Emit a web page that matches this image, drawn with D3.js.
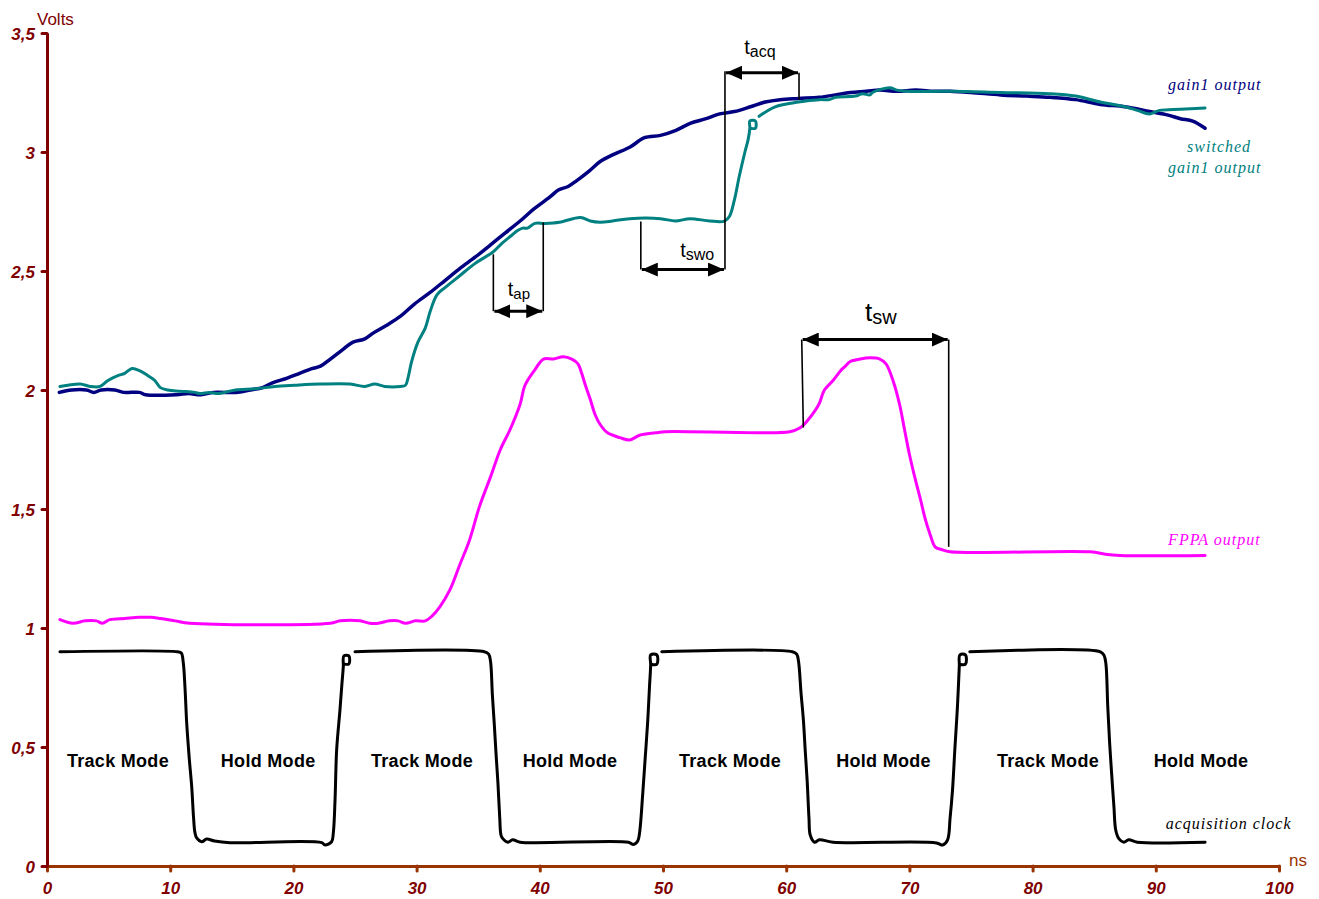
<!DOCTYPE html>
<html>
<head>
<meta charset="utf-8">
<script src="https://cdn.jsdelivr.net/npm/d3@7/dist/d3.min.js"></script>
<style>
  html, body { margin: 0; padding: 0; background: #fff; }
  svg { display: block; }
  .tick-label { font-family: Arial, "Liberation Sans", sans-serif; font-weight: bold; font-style: italic; font-size: 17px; fill: #800000; }
  .mode { font-family: Arial, "Liberation Sans", sans-serif; font-weight: bold; font-size: 18px; fill: #000; letter-spacing: 0.3px; }
  .legend { font-family: "Times New Roman", "Liberation Serif", serif; font-style: italic; font-size: 16px; letter-spacing: 1px; }
  .anno { font-family: Arial, "Liberation Sans", sans-serif; fill: #000; }
</style>
</head>
<body>
<svg id="chart" width="1319" height="899"></svg>
<script>
// ---- axis ticks ----
const xTicks = [0, 10, 20, 30, 40, 50, 60, 70, 80, 90, 100];
const yTicks = [0, 0.5, 1, 1.5, 2, 2.5, 3, 3.5];
const yTickLabels = ["0", "0,5", "1", "1,5", "2", "2,5", "3", "3,5"];

// ---- gain1 output [ns, V] ----
const gain1Output = [
  [1.0,1.99],[2.0,2.0],[3.2,2.0],[3.8,1.99],[4.4,2.0],[5.5,2.0],[6.2,1.99],[7.5,1.99],[8.0,1.98],
  [10.5,1.98],[11.5,1.985],[12.5,1.98],[13.5,1.99],[15.5,1.99],[16.5,2.0],[17.5,2.01],[18.3,2.03],
  [19.5,2.05],[20.5,2.07],[21.5,2.09],[22.2,2.10],[23.0,2.13],[24.0,2.17],[24.8,2.20],[25.8,2.215],
  [26.5,2.24],[27.5,2.27],[28.7,2.31],[29.8,2.36],[31.1,2.41],[32.3,2.46],[33.5,2.51],[34.8,2.56],
  [36.0,2.61],[37.2,2.66],[38.4,2.71],[39.5,2.76],[40.8,2.81],[41.5,2.84],[42.3,2.855],[43.0,2.88],
  [44.0,2.92],[44.9,2.96],[46.0,2.99],[47.3,3.02],[48.5,3.06],[49.8,3.07],[51.0,3.09],[52.2,3.12],
  [53.5,3.14],[54.6,3.16],[55.8,3.17],[57.1,3.19],[58.3,3.21],[59.5,3.22],[61.0,3.225],[62.7,3.23],
  [64.0,3.24],[65.2,3.25],[66.5,3.255],[67.6,3.26],[69.0,3.255],[70.5,3.26],[72.0,3.255],[73.3,3.255],
  [75.0,3.25],[77.4,3.24],[79.5,3.235],[81.4,3.23],[83.5,3.22],[85.5,3.20],[87.5,3.19],[89.5,3.17],
  [91.0,3.155],[92.0,3.14],[93.0,3.13],[94.0,3.10]
];

// ---- switched gain1 output [ns, V]; null marks a break in the trace ----
const switchedOutput = [
  [1.05,2.015],[1.7,2.02],[2.7,2.025],[3.5,2.015],[4.3,2.015],[4.95,2.04],[5.75,2.06],[6.3,2.07],
  [6.9,2.09],[7.55,2.08],[8.2,2.06],[8.75,2.04],[9.2,2.01],[9.8,2.0],[10.8,1.995],[12.0,1.99],
  [12.4,1.985],[13.2,1.99],[13.9,1.985],[15.3,2.0],[16.9,2.005],[18.5,2.015],[20.1,2.02],[22.2,2.025],
  [24.6,2.025],[25.8,2.015],[26.6,2.025],[27.4,2.015],[28.7,2.015],[29.1,2.02],[29.3,2.05],[29.6,2.12],
  [30.1,2.20],[30.7,2.26],[31.1,2.33],[31.65,2.40],[32.3,2.43],[33.5,2.48],[34.7,2.53],[36.2,2.58],
  [36.8,2.61],[37.6,2.645],[38.2,2.67],[38.6,2.68],[39.0,2.68],[39.6,2.70],[40.4,2.70],[41.6,2.705],
  [43.3,2.725],[44.1,2.71],[44.9,2.705],[45.9,2.71],[47.3,2.72],[49.8,2.72],[51.0,2.71],[52.2,2.72],
  [53.8,2.71],[55.0,2.71],[55.4,2.73],[55.8,2.80],[56.2,2.90],[56.65,3.00],[56.9,3.05],[57.05,3.10],
  [57.05,3.13],[57.5,3.13],[57.5,3.10],[57.1,3.10],
  null,
  [57.8,3.15],[59.1,3.19],[61.0,3.21],[62.7,3.22],[63.5,3.22],[64.0,3.23],[65.6,3.235],[66.2,3.245],
  [66.8,3.24],[67.0,3.25],[68.4,3.27],[69.0,3.26],[69.8,3.255],[73.3,3.255],[77.4,3.25],[81.4,3.245],
  [83.5,3.235],[85.5,3.21],[87.5,3.19],[88.5,3.175],[89.5,3.16],[90.3,3.175],[92.0,3.18],[94.0,3.185]
];

// ---- FPPA output [ns, V] ----
const fppaOutput = [
  [1.05,1.035],[2.1,1.02],[3.1,1.03],[4.0,1.03],[4.5,1.02],[5.1,1.035],[6.3,1.04],[7.5,1.045],
  [8.4,1.045],[9.2,1.04],[10.4,1.03],[11.6,1.02],[23.0,1.02],[23.8,1.03],[25.4,1.03],[26.2,1.02],
  [26.9,1.02],[27.8,1.03],[28.5,1.03],[29.1,1.02],[29.9,1.03],[30.7,1.03],[31.25,1.05],[31.9,1.09],
  [32.7,1.16],[33.5,1.265],[34.3,1.37],[35.1,1.51],[36.0,1.635],[36.8,1.75],[37.6,1.835],[38.4,1.94],
  [38.8,2.02],[39.6,2.085],[40.3,2.13],[41.1,2.13],[41.9,2.14],[42.6,2.13],[43.1,2.11],[43.4,2.07],
  [43.7,2.02],[44.1,1.96],[44.5,1.895],[44.9,1.855],[45.5,1.82],[46.5,1.80],[47.3,1.79],[48.1,1.81],
  [49.4,1.82],[50.2,1.825],[60.3,1.825],[61.1,1.84],[61.7,1.87],[62.3,1.91],[62.7,1.945],[63.1,2.0],
  [63.8,2.04],[64.4,2.08],[64.8,2.10],[65.2,2.12],[66.0,2.13],[66.8,2.135],[67.6,2.13],[68.1,2.11],
  [68.7,2.035],[69.2,1.94],[69.6,1.835],[70.0,1.73],[70.5,1.62],[70.9,1.54],[71.3,1.455],[71.7,1.39],
  [72.1,1.34],[72.6,1.33],[73.3,1.32],[84.7,1.32],[85.9,1.31],[87.1,1.305],[94.0,1.305]
];

// ---- acquisition clock [ns, V]; null marks a break in the trace ----
const acquisitionClock = [
  [1.05,0.9],[10.6,0.9],[10.9,0.895],[11.06,0.855],[11.2,0.75],[11.34,0.60],[11.55,0.45],[11.75,0.33],
  [11.9,0.2],[12.01,0.14],[12.15,0.118],[12.56,0.102],[12.96,0.113],[13.6,0.105],[14.85,0.098],
  [22.3,0.098],[22.56,0.088],[23.1,0.102],[23.24,0.139],[23.38,0.278],[23.51,0.488],[23.78,0.656],
  [23.92,0.753],[24.05,0.837],[24.1,0.883],[24.5,0.883],[24.5,0.849],[24.1,0.849],
  null,
  [25.0,0.9],[35.5,0.9],[35.85,0.89],[36.0,0.86],[36.15,0.72],[36.3,0.6],[36.45,0.47],[36.6,0.35],
  [36.75,0.2],[36.85,0.13],[37.0,0.115],[37.4,0.10],[37.8,0.11],[38.4,0.10],[47.2,0.10],[47.6,0.09],
  [47.95,0.105],[48.1,0.14],[48.35,0.30],[48.55,0.45],[48.75,0.6],[48.9,0.75],[49.0,0.845],
  [49.0,0.887],[49.5,0.887],[49.5,0.848],[49.05,0.848],
  null,
  [49.9,0.9],[60.5,0.9],[60.85,0.89],[61.0,0.86],[61.2,0.73],[61.4,0.61],[61.55,0.48],[61.7,0.36],
  [61.85,0.2],[61.95,0.13],[62.3,0.10],[62.7,0.11],[63.8,0.10],[72.2,0.097],[72.7,0.088],[73.1,0.11],
  [73.3,0.2],[73.5,0.32],[73.7,0.5],[73.9,0.67],[74.05,0.84],[74.1,0.887],[74.55,0.887],[74.55,0.848],
  [74.1,0.848],
  null,
  [74.9,0.9],[85.5,0.9],[85.8,0.885],[85.95,0.85],[86.1,0.67],[86.25,0.52],[86.4,0.40],[86.6,0.25],
  [86.75,0.15],[87.0,0.115],[87.4,0.10],[87.8,0.11],[88.5,0.10],[94.0,0.10]
];

// ---- mode labels under the clock ----
const modeNames = ["Track Mode", "Hold Mode", "Track Mode", "Hold Mode", "Track Mode", "Hold Mode", "Track Mode", "Hold Mode"];
const modeCenters = [5.76, 17.95, 30.44, 42.45, 55.44, 67.9, 81.25, 93.67];
const modeLevel = 0.418;

// ---- timing annotations (ns, V) ----
const timings = [
  { main: "t", sub: "ap",  mainSize: 20, subSize: 15, x1: 36.23, x2: 40.28, yArrow: 2.331,
    left: [2.57, 2.331], right: [2.704, 2.331], labelX: 37.4, labelY: 2.394 },
  { main: "t", sub: "swo", mainSize: 20, subSize: 16, x1: 48.2, x2: 55.03, yArrow: 2.506,
    left: [2.708, 2.506], right: [3.339, 2.506], labelX: 51.4, labelY: 2.56 },
  { main: "t", sub: "acq", mainSize: 20, subSize: 16, x1: 55.03, x2: 61.04, yArrow: 3.333,
    left: null, right: [3.333, 3.221], labelX: 56.6, labelY: 3.41 },
  { main: "t", sub: "sw",  mainSize: 26, subSize: 20, x1: 61.26, x2: 73.19, yArrow: 2.212,
    left: [2.212, 1.842], leftBottomX: 61.39, right: [2.212, 1.341], labelX: 66.4, labelY: 2.29 }
];

// ---- series legend labels ----
const seriesLabels = [
  { lines: ["gain1 output"], color: "#000080", x: 91.0, y: 3.262 },
  { lines: ["switched", "gain1 output"], color: "#008080", x: 91.0, y: 3.0, anchorFirstCentered: true },
  { lines: ["FPPA output"], color: "#ff00ff", x: 91.0, y: 1.35 },
  { lines: ["acquisition clock"], color: "#000000", x: 90.8, y: 0.155 }
];

const svg = d3.select("#chart");
const x = d3.scaleLinear().domain([0, 100]).range([47, 1279]);
const y = d3.scaleLinear().domain([0, 3.5]).range([866, 33]);

// ---- axes ----
const yAxis = d3.axisLeft(y)
  .tickValues(yTicks)
  .tickFormat((d, i) => yTickLabels[i])
  .tickSize(5).tickPadding(7).tickSizeOuter(0);
const gy = svg.append("g").attr("transform", "translate(47,0)").call(yAxis);
gy.select(".domain").attr("stroke", "#800000").attr("stroke-width", 3);
gy.selectAll(".tick line").attr("stroke", "#800000").attr("stroke-width", 3).attr("stroke-linecap", "round");
gy.selectAll(".tick text").attr("class", "tick-label").attr("dy", "0.36em");

const xAxis = d3.axisBottom(x)
  .tickValues(xTicks)
  .tickSize(5).tickPadding(11).tickSizeOuter(0);
const gx = svg.append("g").attr("transform", "translate(0,866)").call(xAxis);
gx.select(".domain").attr("stroke", "#993300").attr("stroke-width", 3);
gx.selectAll(".tick line").attr("stroke", "#993300").attr("stroke-width", 3).attr("stroke-linecap", "round");
gx.selectAll(".tick text").attr("class", "tick-label");
gy.raise();

svg.append("text").attr("x", 37).attr("y", 25)
  .attr("font-family", "Arial, 'Liberation Sans', sans-serif").attr("font-size", 17)
  .attr("fill", "#800000").text("Volts");
svg.append("text").attr("x", 1289).attr("y", 866)
  .attr("font-family", "Arial, 'Liberation Sans', sans-serif").attr("font-size", 17)
  .attr("fill", "#993300").text("ns");

// ---- traces ----
const line = d3.line()
  .defined(d => d !== null)
  .x(d => x(d[0]))
  .y(d => y(d[1]))
  .curve(d3.curveCatmullRom.alpha(0.5));

const traces = [
  { data: acquisitionClock, color: "#000000", width: 3 },
  { data: fppaOutput, color: "#ff00ff", width: 3 },
  { data: gain1Output, color: "#000080", width: 3.5 },
  { data: switchedOutput, color: "#008080", width: 3 }
];
svg.append("g").selectAll("path").data(traces).join("path")
  .attr("d", d => line(d.data))
  .attr("fill", "none")
  .attr("stroke", d => d.color)
  .attr("stroke-width", d => d.width)
  .attr("stroke-linejoin", "round")
  .attr("stroke-linecap", "round");

// ---- mode labels ----
svg.append("g").selectAll("text").data(modeNames).join("text")
  .attr("class", "mode")
  .attr("x", (d, i) => x(modeCenters[i]))
  .attr("y", y(modeLevel))
  .attr("text-anchor", "middle")
  .text(d => d);

// ---- timing annotations ----
const defs = svg.append("defs");
defs.append("marker").attr("id", "arrowEnd")
  .attr("markerUnits", "userSpaceOnUse")
  .attr("viewBox", "0 0 16 14").attr("refX", 16).attr("refY", 7)
  .attr("markerWidth", 16).attr("markerHeight", 14).attr("orient", "auto")
  .append("path").attr("d", "M0,0L16,7L0,14Z").attr("fill", "#000");
defs.append("marker").attr("id", "arrowStart")
  .attr("markerUnits", "userSpaceOnUse")
  .attr("viewBox", "0 0 16 14").attr("refX", 0).attr("refY", 7)
  .attr("markerWidth", 16).attr("markerHeight", 14).attr("orient", "auto")
  .append("path").attr("d", "M16,0L0,7L16,14Z").attr("fill", "#000");

const ga = svg.append("g");
timings.forEach(t => {
  if (t.left) {
    ga.append("line")
      .attr("x1", x(t.x1)).attr("y1", y(t.left[0]))
      .attr("x2", x(t.leftBottomX !== undefined ? t.leftBottomX : t.x1)).attr("y2", y(t.left[1]))
      .attr("stroke", "#000").attr("stroke-width", 1.6);
  }
  if (t.right) {
    ga.append("line")
      .attr("x1", x(t.x2)).attr("y1", y(t.right[0]))
      .attr("x2", x(t.x2)).attr("y2", y(t.right[1]))
      .attr("stroke", "#000").attr("stroke-width", 1.6);
  }
  ga.append("line")
    .attr("x1", x(t.x1) + 1).attr("y1", y(t.yArrow))
    .attr("x2", x(t.x2) - 1).attr("y2", y(t.yArrow))
    .attr("stroke", "#000").attr("stroke-width", 3)
    .attr("marker-start", "url(#arrowStart)")
    .attr("marker-end", "url(#arrowEnd)");
  const txt = ga.append("text").attr("class", "anno")
    .attr("x", x(t.labelX)).attr("y", y(t.labelY));
  txt.append("tspan").attr("font-size", t.mainSize).text(t.main);
  txt.append("tspan").attr("font-size", t.subSize).attr("dy", 3).text(t.sub);
});

// ---- series labels ----
const gl = svg.append("g");
seriesLabels.forEach(s => {
  s.lines.forEach((ln, i) => {
    const centered = s.anchorFirstCentered && i === 0;
    gl.append("text").attr("class", "legend")
      .attr("x", centered ? x(s.x) + 51 : x(s.x))
      .attr("y", y(s.y) + i * 20.5)
      .attr("text-anchor", centered ? "middle" : "start")
      .attr("fill", s.color)
      .text(ln);
  });
});
</script>
</body>
</html>
